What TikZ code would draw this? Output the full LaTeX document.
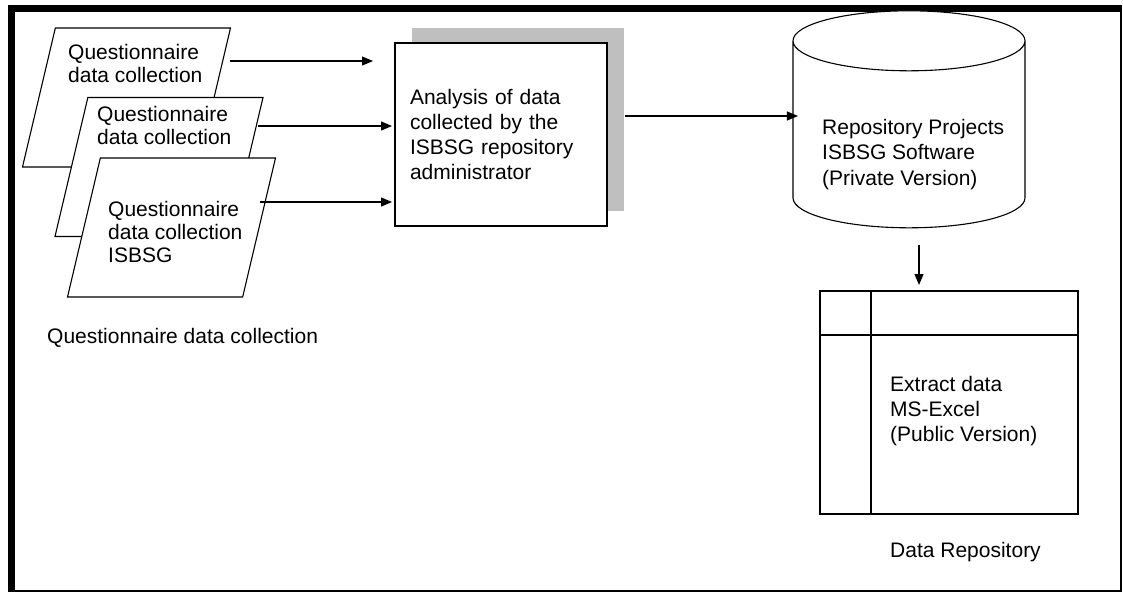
\documentclass[tikz,border=0pt]{standalone}
\usepackage{fontspec}
\setmainfont{Liberation Sans}
\usetikzlibrary{shapes.geometric, arrows.meta, positioning, shadows}

\begin{document}
\begin{tikzpicture}[
    x=1pt, y=-1pt,
    every node/.style={font=\fontsize{21}{25}\selectfont},
    para/.style={trapezium, draw, fill=white, line width=1.1pt, trapezium left angle=77, trapezium right angle=103, trapezium stretches=true, minimum width=208pt, minimum height=139pt, inner sep=2pt, outer sep=0pt},
    procbox/.style={rectangle, draw, fill=white, line width=1.1pt, minimum width=212pt, minimum height=183pt, text width=182pt, align=left, inner sep=0pt, outer sep=0pt, drop shadow={shadow xshift=17pt, shadow yshift=15pt, fill=black!25, opacity=1}},
    db/.style={cylinder, draw, fill=white, line width=1.1pt, shape border rotate=90, aspect=1.5, minimum width=232pt, minimum height=217pt, inner sep=20pt, outer sep=0pt},
    tablebox/.style={rectangle, draw, line width=1.1pt, minimum width=258pt, minimum height=223pt, inner sep=0pt, outer sep=0pt},
    txt/.style={align=left, inner sep=0pt, anchor=base west},
    arrow/.style={-{Triangle[length=11pt, width=9pt]}, line width=1.2pt}
]
\useasboundingbox (0,0) rectangle (1123,592);

% Frame
\draw[line width=2pt] (9,6) rectangle (1121,591);
\fill (8,5) rectangle (1122,12);
\fill (8,5) rectangle (15,592);

% Nodes
\node[para] (form1) at (126.5,97.5) {};
\node[txt, font=\fontsize{21}{23}\selectfont] (form1text) at (68,82) {Questionnaire\\data collection};
\node[para] (form2) at (159,167) {};
\node[txt, font=\fontsize{21}{23}\selectfont] (form2text) at (97,144) {Questionnaire\\data collection};
\node[para] (form3) at (171.5,227.5) {};
\node[txt, font=\fontsize{21}{23}\selectfont] (form3text) at (108,262) {Questionnaire\\data collection\\ISBSG};
\node[txt] (formlabel) at (47,343) {Questionnaire data collection};

\node[procbox] (analysis) at (501,134.5) {Analysis of data\\collected by the\\ISBSG repository\\administrator};

\node[db] (repo) at (909,143) {};
\node[txt, font=\fontsize{21}{25.5}\selectfont] (repotext) at (822,185) {Repository Projects\\ISBSG Software\\(Private Version)};

\node[tablebox] (extract) at (949,402.5) {};
\draw[line width=1.1pt] ([xshift=51pt]extract.north west) -- ([xshift=51pt]extract.south west);
\draw[line width=1.1pt] ([yshift=-44pt]extract.north west) -- ([yshift=-44pt]extract.north east);
\node[txt] (extracttext) at (890,441) {Extract data\\MS-Excel\\(Public Version)};
\node[txt] (extractlabel) at (890,557) {Data Repository};

% Connections
\coordinate (out1) at (230,61);
\coordinate (in1) at (373,61);
\coordinate (out2) at (258,126);
\coordinate (out3) at (260,202);
\coordinate (out4) at (625,116);
\path (repo.south |- extract.north) coordinate (tipbase);

\draw[arrow] (out1) -- (in1);
\draw[arrow, shorten >=3pt] (out2) -- (analysis.west |- out2);
\draw[arrow, shorten >=3pt] (out3) -- (analysis.west |- out3);
\draw[arrow, shorten >=-5pt] (out4) -- (repo.west |- out4);
\draw[arrow] ([shift={(10,17)}]repo.south) -- ([shift={(10,-6)}]tipbase);

\end{tikzpicture}
\end{document}
